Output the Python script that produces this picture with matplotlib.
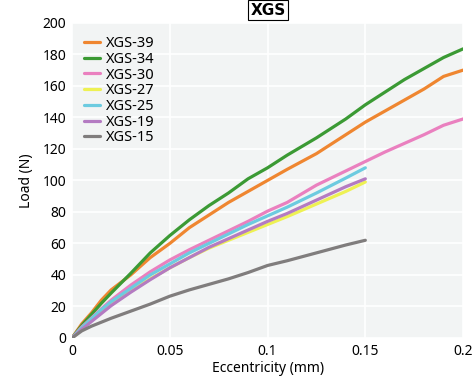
import numpy as np
import matplotlib.pyplot as plt

plt.rcParams['font.family'] = ['Noto Sans', 'DejaVu Sans']

# Eccentricity (mm) / Load (N)
ecc_long = [0, 0.005, 0.01, 0.015, 0.02, 0.03, 0.04, 0.05, 0.06, 0.07, 0.08,
            0.09, 0.1, 0.11, 0.125, 0.14, 0.15, 0.16, 0.17, 0.18, 0.19, 0.2]
xgs39 = [0, 9, 16, 24, 30.5, 40, 51, 60, 70, 78, 86,
         93, 100, 107, 117, 129, 137, 144, 151, 158, 166, 170]
xgs34 = [0, 8, 15, 22, 28.5, 41, 54, 65, 75, 84, 92,
         101, 108, 116, 127, 139, 148, 156, 164, 171, 178, 183.5]
xgs30 = [0, 7, 12.7, 18.5, 24, 33.5, 42, 49.5, 56, 62, 68,
         74, 80.5, 86, 97, 106, 112, 118, 123.5, 129, 135, 139]

ecc_short = [0, 0.005, 0.01, 0.015, 0.02, 0.03, 0.04, 0.05, 0.06, 0.07, 0.08,
             0.09, 0.1, 0.11, 0.125, 0.14, 0.15]
xgs27 = [0, 6, 11.5, 16.5, 21, 29.5, 37.5, 44.5, 51, 57, 62, 67, 72, 77, 85, 93, 99]
xgs25 = [0, 6.5, 12.3, 18, 23, 31.5, 40, 47, 54, 60, 66, 72, 77.5, 83, 92, 101.5, 108]
xgs19 = [0, 5.5, 10.5, 15.5, 20.5, 29, 37, 44.5, 51, 57.5, 63, 68.5, 74, 79, 87.5, 96, 101]
xgs15 = [0, 4.5, 7.5, 10, 12.5, 17, 21.5, 26.5, 30.5, 34, 37.5, 41.5, 46, 49, 54, 59, 62]

series = [
    ('XGS-39', ecc_long, xgs39, '#ef8630'),
    ('XGS-34', ecc_long, xgs34, '#3b9a34'),
    ('XGS-30', ecc_long, xgs30, '#ea80bf'),
    ('XGS-27', ecc_short, xgs27, '#eef153'),
    ('XGS-25', ecc_short, xgs25, '#6ccbe0'),
    ('XGS-19', ecc_short, xgs19, '#b47bc2'),
    ('XGS-15', ecc_short, xgs15, '#807d7d'),
]

fig = plt.figure(figsize=(4.74, 3.81), dpi=100)
ax = fig.add_axes([0.152, 0.113, 0.825, 0.827])
ax.set_facecolor('#f2f4f4')

for name, x, y, c in series:
    ax.plot(x, y, color=c, lw=2.3, label=name, solid_capstyle='round',
            solid_joinstyle='round')

ax.set_xlim(0, 0.2)
ax.set_ylim(0, 200)
ax.set_xticks([0, 0.05, 0.1, 0.15, 0.2])
ax.set_xticklabels(['0', '0.05', '0.1', '0.15', '0.2'])
ax.set_yticks(np.arange(0, 201, 20))
ax.grid(True, color='white', lw=1.2)
ax.set_axisbelow(True)
for s in ax.spines.values():
    s.set_visible(False)
ax.tick_params(length=0, labelsize=10, pad=4)

ax.set_xlabel('Eccentricity (mm)', fontsize=10, labelpad=2)
ax.set_ylabel('Load (N)', fontsize=10, labelpad=6)

ax.legend(loc='upper left', frameon=False, fontsize=10.5, handlelength=1.1,
          handletextpad=0.4, labelspacing=0.05, borderaxespad=0.4,
          bbox_to_anchor=(0.0, 0.995))

fig.text(0.566, 0.973, 'XGS', ha='center', va='center', fontsize=11,
         fontweight='bold', family='DejaVu Sans',
         bbox=dict(boxstyle='square,pad=0.15', fc='white', ec='black', lw=0.8))

fig.savefig('out.png', dpi=100)
